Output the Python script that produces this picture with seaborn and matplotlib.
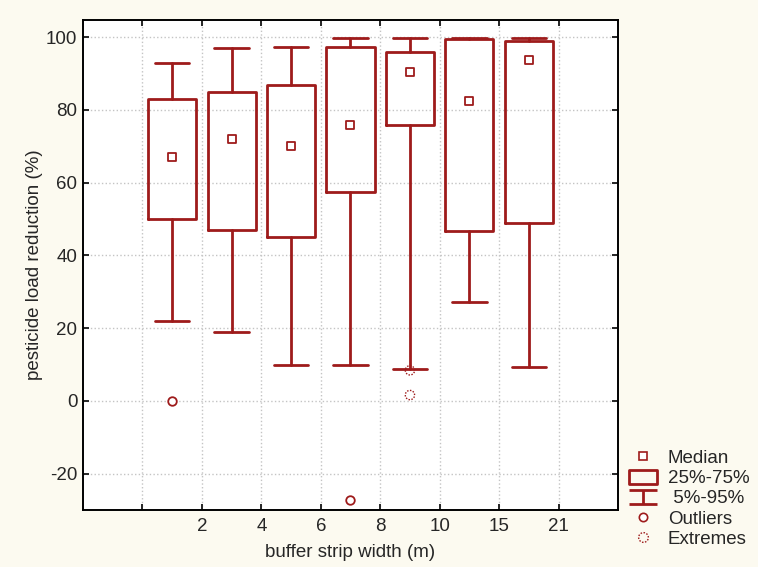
import numpy as np
import pandas as pd
import matplotlib
matplotlib.use("Agg")
import matplotlib.pyplot as plt
from matplotlib.path import Path
from matplotlib.lines import Line2D
import seaborn as sns

# buffer strip widths (m) and box statistics
widths = ["2", "4", "6", "8", "10", "15", "21"]
p05 = [22.0, 19.0, 10.0, 10.0, 8.8, 27.3, 9.2]
q25 = [50.0, 47.0, 45.0, 57.4, 75.8, 46.8, 49.0]
median = [67.0, 72.0, 70.0, 75.8, 90.3, 82.4, 93.7]
q75 = [83.0, 85.0, 86.8, 97.2, 96.0, 99.5, 98.9]
p95 = [92.8, 97.0, 97.2, 99.8, 99.8, 99.8, 99.8]

outlier_group = ["2", "8"]
outlier_value = [0.0, -27.3]
extreme_group = ["10", "10"]
extreme_value = [8.4, 1.6]

tick_labels = ["", "2", "4", "6", "8", "10", "15", "21"]

RED = "#9e1b1b"
BG = "#fcfaf0"
FS = 13.5

sns.set_theme(style="ticks", rc={
    "axes.edgecolor": "black",
    "axes.linewidth": 1.4,
    "axes.unicode_minus": False,
    "xtick.direction": "in",
    "ytick.direction": "in",
    "xtick.top": True,
    "ytick.right": True,
    "xtick.major.size": 4,
    "ytick.major.size": 4,
    "xtick.major.width": 1.4,
    "ytick.major.width": 1.4,
})
plt.rcParams["font.family"] = ["Liberation Sans", "DejaVu Sans"]

fig = plt.figure(figsize=(7.58, 5.67), dpi=100, facecolor=BG)
ax = fig.add_axes([0.1095, 0.1005, 0.7058, 0.8642])
ax.set_facecolor("white")

# boxes sit between the grid lines, half a slot left of their label
pos = {w: i + 1.5 for i, w in enumerate(widths)}

stats = []
for i, w in enumerate(widths):
    stats.append(dict(med=median[i], q1=q25[i], q3=q75[i],
                      whislo=p05[i], whishi=p95[i], fliers=[]))

ax.bxp(stats, positions=[pos[w] for w in widths], widths=0.81, capwidths=0.58,
       showfliers=False, patch_artist=False,
       boxprops=dict(color=RED, linewidth=2.0),
       whiskerprops=dict(color=RED, linewidth=2.0),
       capprops=dict(color=RED, linewidth=2.0),
       medianprops=dict(visible=False))

med_df = pd.DataFrame({"x": [pos[w] for w in widths], "y": median})
sns.scatterplot(data=med_df, x="x", y="y", marker="s", s=38, color="white",
                edgecolor=RED, linewidth=1.3, ax=ax, zorder=5)

out_df = pd.DataFrame({"x": [pos[g] for g in outlier_group], "y": outlier_value})
sns.scatterplot(data=out_df, x="x", y="y", marker="o", s=38, color="white",
                edgecolor=RED, linewidth=1.3, ax=ax, zorder=5)

# dotted circle used for extremes
ang = np.linspace(0, 2 * np.pi, 21)
verts, codes = [], []
for k in range(0, 20, 2):
    a = np.linspace(ang[k], ang[k + 1], 3)
    for j, t in enumerate(a):
        verts.append((np.cos(t), np.sin(t)))
        codes.append(Path.MOVETO if j == 0 else Path.LINETO)
dotted = Path(verts, codes)

ext_df = pd.DataFrame({"x": [pos[g] for g in extreme_group], "y": extreme_value})
ax.scatter(ext_df["x"], ext_df["y"], marker=dotted, s=45, facecolors="none",
           edgecolors=RED, linewidths=1.0, zorder=6)

ax.set_xlim(0, 9)
ax.set_ylim(-30, 104.7)
ax.set_xticks(range(1, 9))
ax.set_xticklabels(tick_labels)
ax.set_yticks(range(-20, 101, 20))
ax.tick_params(labelsize=FS, pad=4)
ax.tick_params(axis="x", pad=6)
ax.grid(True, color="#c4c4c4", linestyle=":", linewidth=1.0)
ax.set_axisbelow(True)
ax.set_xlabel("buffer strip width (m)", fontsize=FS, labelpad=6)
ax.set_ylabel("pesticide load reduction (%)", fontsize=FS, labelpad=2.5)

# legend glyphs
box_path = Path([(-1, -0.52), (1, -0.52), (1, 0.52), (-1, 0.52), (-1, -0.52)],
                [Path.MOVETO, Path.LINETO, Path.LINETO, Path.LINETO, Path.CLOSEPOLY])
whisk_path = Path([(-1, 0.55), (1, 0.55), (0, 0.55), (0, -0.55), (-1, -0.55), (1, -0.55)],
                  [Path.MOVETO, Path.LINETO, Path.MOVETO, Path.LINETO, Path.MOVETO, Path.LINETO])
handles = [
    Line2D([], [], ls="none", marker="s", ms=6, mfc="white", mec=RED, mew=1.2),
    Line2D([], [], ls="none", marker=box_path, ms=19.5, mfc="none", mec=RED, mew=2.0),
    Line2D([], [], ls="none", marker=whisk_path, ms=19.5, mfc="none", mec=RED, mew=2.0),
    Line2D([], [], ls="none", marker="o", ms=6, mfc="white", mec=RED, mew=1.2),
    Line2D([], [], ls="none", marker=dotted, ms=7, mfc="none", mec=RED, mew=1.0),
]
labels = ["Median", "25%-75%", " 5%-95%", "Outliers", "Extremes"]
fig.legend(handles, labels, loc="upper left", bbox_to_anchor=(0.8285, 0.207),
           frameon=False, fontsize=FS, handlelength=1.6, handletextpad=0.53,
           labelspacing=0.17, borderaxespad=0, borderpad=0)

fig.savefig("out.png", dpi=100, facecolor=BG)
